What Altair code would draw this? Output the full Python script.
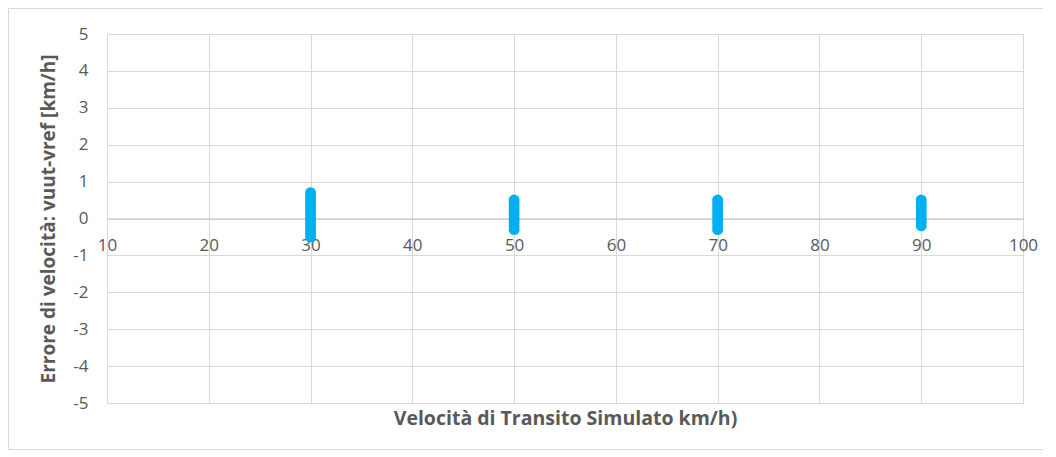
import altair as alt
import pandas as pd

# data
speed_30 = [-0.5, -0.4, -0.3, -0.2, -0.1, 0.0, 0.1, 0.2, 0.3, 0.4, 0.5, 0.6, 0.7]
speed_50 = [-0.3, -0.2, -0.1, 0.0, 0.1, 0.2, 0.3, 0.4, 0.5]
speed_70 = [-0.3, -0.2, -0.1, 0.0, 0.1, 0.2, 0.3, 0.4, 0.5]
speed_90 = [-0.2, -0.1, 0.0, 0.1, 0.2, 0.3, 0.4, 0.5]
x_ticks = [10, 20, 30, 40, 50, 60, 70, 80, 90, 100]
y_ticks = [-5, -4, -3, -2, -1, 0, 1, 2, 3, 4, 5]

rows = []
for v, errs in [(30, speed_30), (50, speed_50), (70, speed_70), (90, speed_90)]:
    for e in errs:
        rows.append({"v": v, "err": e})
df = pd.DataFrame(rows)

FONT = "Open Sans"
W, H = 916, 369
LBL = "replace(datum.label, '\u2212', '-')"

x = alt.X("v:Q", scale=alt.Scale(domain=[10, 100], nice=False, zero=False),
          axis=alt.Axis(values=x_ticks, title="Velocità di Transito Simulato km/h)",
                        offset=-H / 2, grid=True, gridColor="#d9d9d9",
                        domainColor="#bfbfbf", ticks=False, labelPadding=19,
                        labelFont=FONT, labelFontSize=17, labelColor="#595959",
                        titleFont=FONT, titleFontSize=19.5, titleColor="#595959",
                        titleFontWeight="bold", titlePadding=156, labelFlush=False))
y = alt.Y("err:Q", scale=alt.Scale(domain=[-5, 5], nice=False),
          axis=alt.Axis(values=y_ticks, title="Errore di velocità: vuut-vref [km/h]",
                        grid=True, gridColor="#d9d9d9", domainColor="#d9d9d9",
                        ticks=False, labelPadding=19, labelExpr=LBL,
                        labelFont=FONT, labelFontSize=17, labelColor="#595959",
                        titleFont=FONT, titleFontSize=19, titleColor="#595959",
                        titleFontWeight="bold", titlePadding=14))

points = alt.Chart(df).mark_circle(size=120, color="#00B0F0", opacity=1).encode(x=x, y=y)

frame = alt.Chart(pd.DataFrame({"a": [0]})).mark_rect(
    fill=None, stroke="#d9d9d9", strokeWidth=1, clip=False
).encode(x=alt.value(-98.5), x2=alt.value(W + 24.5), y=alt.value(-25.5), y2=alt.value(H + 46.5))

chart = alt.layer(frame, points).properties(
    width=W, height=H,
    autosize=alt.AutoSizeParams(type="none"),
    padding={"left": 99, "top": 26, "right": 20, "bottom": 50},
).configure_view(stroke=None).configure(background="white")

chart.save("out.html", embed_options={"renderer": "svg", "actions": False})
